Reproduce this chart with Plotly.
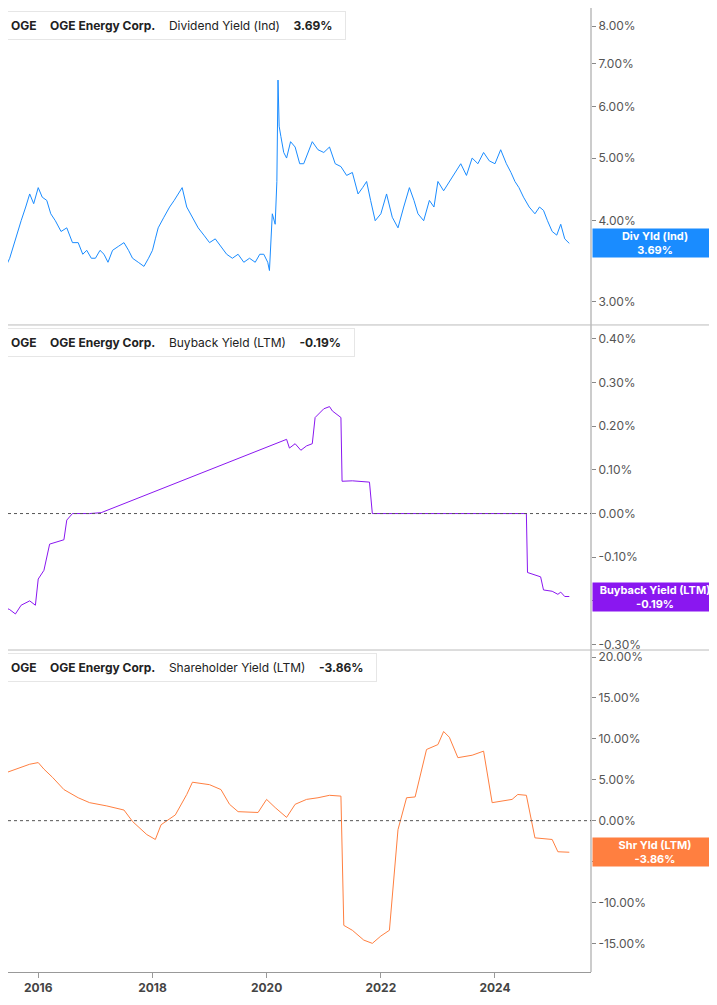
import math
import datetime
import plotly.graph_objects as go
from plotly.subplots import make_subplots

# fractional years -> values
div_years = [2015.33, 2015.4, 2015.5, 2015.6, 2015.7, 2015.78, 2015.85, 2015.92, 2016.0, 2016.07, 2016.15, 2016.22,
             2016.3, 2016.4, 2016.5, 2016.6, 2016.7, 2016.78, 2016.85, 2016.93, 2017.0, 2017.08, 2017.15, 2017.22,
             2017.3, 2017.4, 2017.5, 2017.58, 2017.65, 2017.75, 2017.85, 2017.93, 2018.0, 2018.05, 2018.1, 2018.2,
             2018.3, 2018.38, 2018.45, 2018.52, 2018.6, 2018.7, 2018.8, 2018.9, 2019.0, 2019.1, 2019.2, 2019.3,
             2019.4, 2019.5, 2019.6, 2019.7, 2019.8, 2019.88, 2019.95, 2020.02, 2020.05, 2020.1, 2020.15, 2020.18,
             2020.2, 2020.22, 2020.25, 2020.3, 2020.35, 2020.42, 2020.5, 2020.58, 2020.65, 2020.72, 2020.8, 2020.9,
             2021.0, 2021.1, 2021.2, 2021.3, 2021.4, 2021.5, 2021.6, 2021.68, 2021.75, 2021.82, 2021.9, 2022.0,
             2022.1, 2022.2, 2022.3, 2022.4, 2022.5, 2022.58, 2022.65, 2022.75, 2022.85, 2022.93, 2023.0, 2023.1,
             2023.2, 2023.3, 2023.4, 2023.5, 2023.6, 2023.7, 2023.8, 2023.9, 2024.0, 2024.1, 2024.2, 2024.28,
             2024.35, 2024.42, 2024.5, 2024.6, 2024.7, 2024.78, 2024.85, 2024.92, 2025.0, 2025.08, 2025.15, 2025.22,
             2025.3]
div_yield = [3.1, 3.35, 3.5, 3.75, 4.0, 4.2, 4.4, 4.25, 4.5, 4.35, 4.3, 4.1,
             4.0, 3.85, 3.9, 3.7, 3.7, 3.55, 3.6, 3.5, 3.5, 3.6, 3.55, 3.45,
             3.6, 3.65, 3.7, 3.6, 3.5, 3.45, 3.4, 3.5, 3.6, 3.75, 3.9, 4.05,
             4.2, 4.3, 4.4, 4.5, 4.2, 4.05, 3.9, 3.8, 3.7, 3.75, 3.65, 3.55,
             3.5, 3.55, 3.45, 3.5, 3.45, 3.55, 3.55, 3.45, 3.35, 4.1, 3.95, 4.6,
             6.6, 5.6, 5.4, 5.1, 5.0, 5.3, 5.2, 4.9, 4.9, 5.1, 5.3, 5.15,
             5.1, 5.2, 4.9, 4.85, 4.7, 4.75, 4.4, 4.5, 4.6, 4.3, 4.0, 4.1,
             4.4, 4.05, 3.9, 4.2, 4.5, 4.3, 4.1, 4.0, 4.3, 4.2, 4.6, 4.45,
             4.6, 4.75, 4.9, 4.7, 5.0, 4.9, 5.1, 4.95, 4.9, 5.15, 4.9, 4.75,
             4.6, 4.5, 4.35, 4.2, 4.1, 4.2, 4.15, 4.0, 3.85, 3.8, 3.95, 3.75,
             3.69]

bb_years = [2015.33, 2015.5, 2015.6, 2015.7, 2015.85, 2015.95, 2016.0, 2016.1, 2016.2, 2016.35, 2016.45, 2016.5,
            2016.6, 2016.9, 2017.1, 2020.35, 2020.4, 2020.5, 2020.6, 2020.7, 2020.8, 2020.85, 2021.0, 2021.1,
            2021.15, 2021.3, 2021.32, 2021.5, 2021.8, 2021.85, 2024.55, 2024.57, 2024.7, 2024.8, 2024.85, 2025.0,
            2025.1, 2025.15, 2025.22, 2025.3]
bb_yield = [-0.21, -0.22, -0.23, -0.21, -0.20, -0.21, -0.15, -0.13, -0.07, -0.065, -0.06, -0.015,
            0.0, 0.0, 0.002, 0.17, 0.15, 0.16, 0.145, 0.155, 0.16, 0.22, 0.24, 0.245,
            0.235, 0.22, 0.074, 0.075, 0.072, 0.0, 0.0, -0.135, -0.14, -0.145, -0.175, -0.178,
            -0.185, -0.18, -0.19, -0.19]

sh_years = [2015.33, 2015.5, 2015.7, 2015.85, 2016.0, 2016.1, 2016.25, 2016.45, 2016.7, 2016.9, 2017.2, 2017.5,
            2017.65, 2017.9, 2018.05, 2018.15, 2018.4, 2018.6, 2018.7, 2019.0, 2019.2, 2019.35, 2019.5, 2019.85,
            2020.0, 2020.15, 2020.35, 2020.5, 2020.7, 2020.9, 2021.1, 2021.3, 2021.35, 2021.5, 2021.7, 2021.85,
            2022.0, 2022.15, 2022.3, 2022.45, 2022.6, 2022.8, 2023.0, 2023.1, 2023.2, 2023.35, 2023.6, 2023.8,
            2023.95, 2024.3, 2024.4, 2024.55, 2024.7, 2025.0, 2025.1, 2025.3]
sh_yield = [5.6, 6.0, 6.5, 6.9, 7.1, 6.3, 5.3, 3.8, 2.8, 2.2, 1.8, 1.3,
            -0.1, -1.7, -2.3, -0.5, 0.7, 3.2, 4.7, 4.4, 3.8, 2.0, 1.1, 1.0,
            2.6, 1.6, 0.4, 2.0, 2.6, 2.8, 3.1, 3.0, -12.8, -13.4, -14.6, -15.0,
            -14.1, -13.4, -1.1, 2.8, 2.9, 8.7, 9.3, 10.9, 10.2, 7.7, 8.0, 8.5,
            2.2, 2.6, 3.2, 3.1, -2.1, -2.3, -3.8, -3.86]

year_ticks = ["2016", "2018", "2020", "2022", "2024"]


def to_date(y):
    yr = int(y)
    start = datetime.datetime(yr, 1, 1)
    return start + datetime.timedelta(days=(y - yr) * 365.25)


BLUE = "#1a8cff"
PURPLE = "#8a17f0"
ORANGE = "#ff7f40"
GRID_GREY = "#555555"

fig = make_subplots(rows=3, cols=1, shared_xaxes=True, vertical_spacing=0)
fig.add_trace(go.Scatter(x=[to_date(v) for v in div_years], y=div_yield, mode="lines",
                         line=dict(color=BLUE, width=1)), row=1, col=1)
fig.add_trace(go.Scatter(x=[to_date(v) for v in bb_years], y=bb_yield, mode="lines",
                         line=dict(color=PURPLE, width=1)), row=2, col=1)
fig.add_trace(go.Scatter(x=[to_date(v) for v in sh_years], y=sh_yield, mode="lines",
                         line=dict(color=ORANGE, width=1)), row=3, col=1)

# plot area: 964 px tall
H = 964.0
d1 = [0.6712, 1.0]
d2 = [0.334, 0.6712]
d3 = [0.0, 0.334]

tick_style = dict(side="right", showgrid=False, zeroline=False, ticks="outside", ticklen=4,
                  tickcolor="#888", tickfont=dict(family="Inter, Roboto", size=12, color=GRID_GREY))

div_ticks = [3, 4, 5, 6, 7, 8]
bb_ticks = [-0.3, -0.2, -0.1, 0, 0.1, 0.2, 0.3, 0.4]
sh_ticks = [-15, -10, -5, 0, 5, 10, 15, 20]
fig.update_layout(
    yaxis=dict(type="log", domain=d1, range=[math.log10(2.76), math.log10(8.53)],
               tickvals=div_ticks, ticktext=["%.2f%%" % v for v in div_ticks], **tick_style),
    yaxis2=dict(domain=d2, range=[-0.3126, 0.432], tickvals=bb_ticks,
                ticktext=["%.2f%%" % v for v in bb_ticks], **tick_style),
    yaxis3=dict(domain=d3, range=[-18.5, 20.86], tickvals=sh_ticks,
                ticktext=["%.2f%%" % v for v in sh_ticks], **tick_style),
)
x_range = [to_date(2015.47), to_date(2025.68)]
fig.update_xaxes(range=x_range, showgrid=False, zeroline=False, showticklabels=False)
fig.update_xaxes(row=3, col=1, showticklabels=True, showline=True, linecolor="#999", ticks="outside",
                 ticklen=5, tickcolor="#999",
                 tickvals=[datetime.datetime(int(t), 1, 1) for t in year_ticks], ticktext=year_ticks,
                 tickfont=dict(family="Inter, Roboto", size=12, color="#444", weight="bold"))

shapes = [
    dict(type="line", xref="paper", yref="paper", x0=1, x1=1, y0=0, y1=1, line=dict(color="#999", width=1)),
    dict(type="line", xref="paper", yref="paper", x0=-0.02, x1=1.3, y0=d1[0], y1=d1[0], line=dict(color="#bbb", width=1)),
    dict(type="line", xref="paper", yref="paper", x0=-0.02, x1=1.3, y0=d2[0], y1=d2[0], line=dict(color="#bbb", width=1)),
    dict(type="line", xref="x2 domain", yref="y2", x0=0, x1=1, y0=0, y1=0, line=dict(color="#555", width=1, dash="dot")),
    dict(type="line", xref="x3 domain", yref="y3", x0=0, x1=1, y0=0, y1=0, line=dict(color="#555", width=1, dash="dot")),
]

annotations = []
headers = [("Dividend Yield (Ind)", "3.69%", BLUE, d1[1]),
           ("Buyback Yield (LTM)", "-0.19%", PURPLE, d2[1]),
           ("Shareholder Yield (LTM)", "-3.86%", ORANGE, d3[1])]
for name, val, col, top in headers:
    annotations.append(dict(xref="paper", yref="paper", x=0.0, y=top - 3 / H, xanchor="left", yanchor="top",
                            xshift=-4, showarrow=False, align="left", bgcolor="white", bordercolor="#e6e6e6",
                            borderwidth=1, borderpad=6,
                            text="<b>OGE</b>    <b>OGE Energy Corp.</b>    %s    <b>%s</b>  " % (name, val),
                            font=dict(family="Inter, Roboto", size=12, color="#222")))
    shapes.append(dict(type="rect", xref="paper", yref="paper", x0=-4 / 583, x1=-1 / 583,
                       y0=top - 29 / H, y1=top - 4 / H, fillcolor=col, line=dict(width=0)))

labels = [("Div Yld (Ind)", "3.69%", BLUE, "y", math.log10(3.69)),
          ("Buyback Yield (LTM)", "-0.19%", PURPLE, "y2", -0.19),
          ("Shr Yld (LTM)", "-3.86%", ORANGE, "y3", -3.86)]
for name, val, col, yr, yv in labels:
    annotations.append(dict(xref="paper", yref=yr, x=1, y=yv, xanchor="left", yanchor="middle", xshift=1,
                            showarrow=False, bgcolor=col, width=124, height=28, borderpad=0,
                            text="<b>%s<br>%s</b>" % (name, val),
                            font=dict(family="Inter, Roboto", size=11, color="white")))

fig.update_layout(width=709, height=997, margin=dict(l=0, r=126, t=0, b=33),
                  plot_bgcolor="white", paper_bgcolor="white", showlegend=False,
                  shapes=shapes, annotations=annotations)

fig.write_html("out.html")
